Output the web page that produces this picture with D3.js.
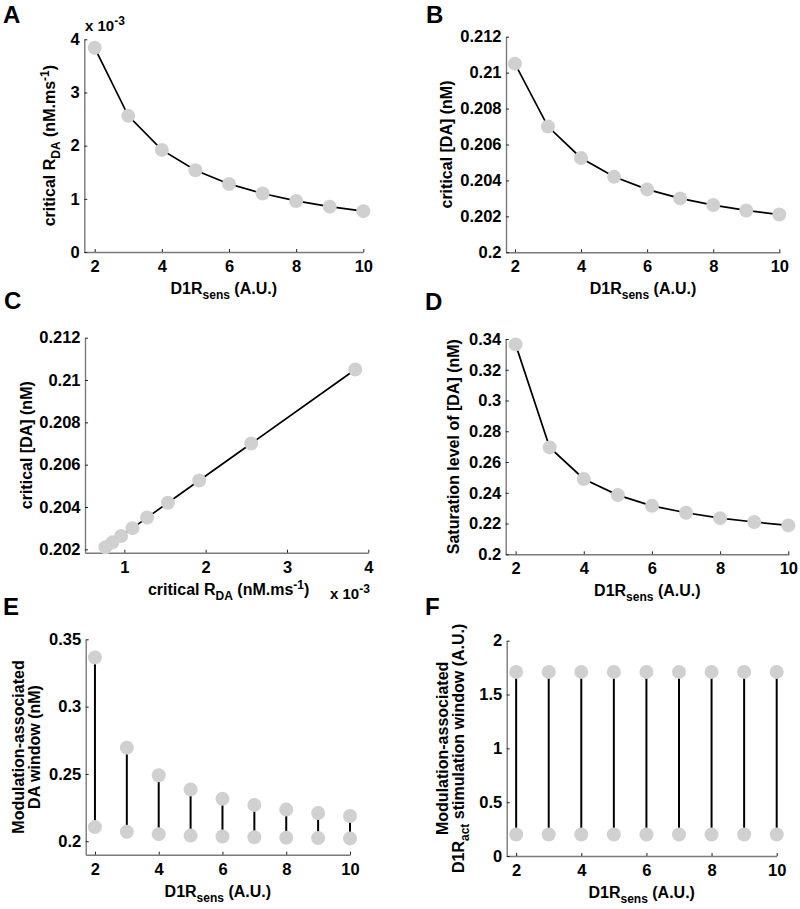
<!DOCTYPE html>
<html>
<head>
<meta charset="utf-8">
<script src="https://cdn.jsdelivr.net/npm/d3@7"></script>
<style>
  html, body { margin: 0; padding: 0; background: #fff; }
  svg { display: block; font-family: "Liberation Sans", Arial, Helvetica, sans-serif; }
  text { font-weight: bold; fill: #000; }
</style>
</head>
<body>
<svg id="chart" width="800" height="909"></svg>
<script>
// ---------------- data ----------------
const d1rSens = [2, 3, 4, 5, 6, 7, 8, 9, 10];
const criticalRDA = [0.00384, 0.00256, 0.00192, 0.001536, 0.00128, 0.0011, 0.00096, 0.000853, 0.000768];
const criticalDA = [0.2105, 0.2070, 0.20525, 0.2042, 0.2035, 0.2030, 0.20263, 0.20233, 0.2021];
const saturationDA = [0.3365, 0.2695, 0.2490, 0.2385, 0.2315, 0.2270, 0.2235, 0.2210, 0.2188];
const d1rActLow = [0.2, 0.2, 0.2, 0.2, 0.2, 0.2, 0.2, 0.2, 0.2];
const d1rActHigh = [1.71, 1.71, 1.71, 1.71, 1.71, 1.71, 1.71, 1.71, 1.71];

const sensTicks = [2, 4, 6, 8, 10];
const ticksA = [0, 0.001, 0.002, 0.003, 0.004];
const ticksB = [0.2, 0.202, 0.204, 0.206, 0.208, 0.21, 0.212];
const ticksCx = [0.001, 0.002, 0.003, 0.004];
const ticksCy = [0.202, 0.204, 0.206, 0.208, 0.21, 0.212];
const ticksD = [0.2, 0.22, 0.24, 0.26, 0.28, 0.3, 0.32, 0.34];
const ticksE = [0.2, 0.25, 0.3, 0.35];
const ticksF = [0, 0.5, 1, 1.5, 2];

// ---------------- style ----------------
const FS = 16;        // axis label font
const TFS = 16.5;     // tick label font
const SUB = 12;
const DOT = "#d0d0d0";
const R = 7;

const svg = d3.select("#chart");

function fmtNum(v) { return String(+v.toFixed(4)); }
function fmtE3(v) { return String(+(v * 1000).toFixed(3)); }

function addRich(g, parts, attrs, size) {
  const t = g.append("text").attr("font-size", size || FS);
  for (const k in attrs) t.attr(k, attrs[k]);
  let shift = 0;
  parts.forEach(([s, kind]) => {
    const ts = t.append("tspan").text(s);
    let target = 0;
    if (kind === "sub") { ts.attr("font-size", SUB); target = 5; }
    else if (kind === "sup") { ts.attr("font-size", SUB); target = -6; }
    ts.attr("dy", target - shift);
    shift = target;
  });
  return t;
}

function panel(cfg) {
  const g = svg.append("g");
  const x = d3.scaleLinear().domain(cfg.xDomain).range([cfg.x0, cfg.x1]);
  const y = d3.scaleLinear().domain(cfg.yDomain).range([cfg.y1, cfg.y0]);

  const ax = g.append("g").attr("transform", `translate(0,${cfg.y1})`)
    .call(d3.axisBottom(x).tickValues(cfg.xTicks).tickFormat(cfg.xFmt || fmtNum)
      .tickSizeInner(-3).tickSizeOuter(0).tickPadding(8.3));
  const ay = g.append("g").attr("transform", `translate(${cfg.x0},0)`)
    .call(d3.axisLeft(y).tickValues(cfg.yTicks).tickFormat(cfg.yFmt || fmtNum)
      .tickSizeInner(-3).tickSizeOuter(0).tickPadding(4.5));
  [ax, ay].forEach(a => {
    a.select(".domain").attr("stroke", "#7a7a7a").attr("stroke-width", 1.4);
    a.selectAll(".tick line").attr("stroke", "#222").attr("stroke-width", 1);
    a.selectAll(".tick text").attr("font-size", TFS).attr("font-weight", "bold")
      .attr("fill", "#000").attr("font-family", "'Liberation Sans', Arial, sans-serif");
  });

  addRich(g, cfg.xLabel, { x: (cfg.x0 + cfg.x1) / 2 + (cfg.xLabelDx || 0), y: cfg.y1 + 42, "text-anchor": "middle" });

  const yc = (cfg.y0 + cfg.y1) / 2;
  cfg.yLabel.forEach((parts, i) => {
    const bx = cfg.yLabelX[i];
    addRich(g, parts, { transform: `translate(${bx},${yc}) rotate(-90)`, "text-anchor": "middle" });
  });

  g.append("text").attr("x", cfg.letterX).attr("y", cfg.letterY)
    .attr("font-size", 24).text(cfg.letter);

  cfg.draw(g, x, y);
  return g;
}

function curveAndDots(g, x, y, xs, ys) {
  const pts = xs.map((v, i) => [v, ys[i]]);
  g.append("path").datum(pts)
    .attr("d", d3.line().x(d => x(d[0])).y(d => y(d[1])))
    .attr("fill", "none").attr("stroke", "#000").attr("stroke-width", 1.7);
  g.selectAll("circle.pt").data(pts).join("circle").attr("class", "pt")
    .attr("cx", d => x(d[0])).attr("cy", d => y(d[1])).attr("r", R).attr("fill", DOT);
}

function stems(g, x, y, xs, lo, hi) {
  const d = xs.map((v, i) => ({ x: v, lo: lo[i], hi: hi[i] }));
  g.selectAll("line.stem").data(d).join("line").attr("class", "stem")
    .attr("x1", p => x(p.x)).attr("x2", p => x(p.x))
    .attr("y1", p => y(p.lo)).attr("y2", p => y(p.hi))
    .attr("stroke", "#000").attr("stroke-width", 2);
  g.selectAll("circle.lo").data(d).join("circle").attr("class", "lo")
    .attr("cx", p => x(p.x)).attr("cy", p => y(p.lo)).attr("r", R).attr("fill", DOT);
  g.selectAll("circle.hi").data(d).join("circle").attr("class", "hi")
    .attr("cx", p => x(p.x)).attr("cy", p => y(p.hi)).attr("r", R).attr("fill", DOT);
}

const sensLabel = [["D1R", "n"], ["sens", "sub"], [" (A.U.)", "n"]];

// A
const gA = panel({
  letter: "A", letterX: 3, letterY: 23,
  x0: 84.3, x1: 363.3, y0: 39.3, y1: 252,
  xDomain: [1.69, 10], yDomain: [0, 0.004],
  xTicks: sensTicks, yTicks: ticksA, yFmt: fmtE3,
  xLabel: sensLabel,
  yLabel: [[["critical R", "n"], ["DA", "sub"], [" (nM.ms", "n"], ["-1", "sup"], [")", "n"]]],
  yLabelX: [55],
  draw: (g, x, y) => curveAndDots(g, x, y, d1rSens, criticalRDA)
});
addRich(gA, [["x 10", "n"], ["-3", "sup"]], { x: 85, y: 31 }, 15);

// B
panel({
  letter: "B", letterX: 426, letterY: 23,
  x0: 506, x1: 780, y0: 36.7, y1: 252.3,
  xDomain: [1.73, 10.02], yDomain: [0.2, 0.212],
  xTicks: sensTicks, yTicks: ticksB,
  xLabel: sensLabel,
  yLabel: [[["critical [DA] (nM)", "n"]]],
  yLabelX: [451.5],
  draw: (g, x, y) => curveAndDots(g, x, y, d1rSens, criticalDA)
});

// C
const gC = panel({
  letter: "C", letterX: 4, letterY: 309,
  x0: 85, x1: 368.3, y0: 337.7, y1: 552.7,
  xDomain: [0.000516, 0.004], yDomain: [0.20184, 0.212],
  xTicks: ticksCx, yTicks: ticksCy, xFmt: fmtE3,
  xLabel: [["critical R", "n"], ["DA", "sub"], [" (nM.ms", "n"], ["-1", "sup"], [")", "n"]],
  xLabelDx: 2,
  yLabel: [[["critical [DA] (nM)", "n"]]],
  yLabelX: [31.5],
  draw: (g, x, y) => curveAndDots(g, x, y, criticalRDA, criticalDA)
});
addRich(gC, [["x 10", "n"], ["-3", "sup"]], { x: 330, y: 599 }, 15);

// D
panel({
  letter: "D", letterX: 425, letterY: 310,
  x0: 505.7, x1: 789, y0: 339, y1: 554.3,
  xDomain: [1.71, 10.02], yDomain: [0.2, 0.34],
  xTicks: sensTicks, yTicks: ticksD,
  xLabel: sensLabel,
  yLabel: [[["Saturation level of [DA] (nM)", "n"]]],
  yLabelX: [458.5],
  draw: (g, x, y) => curveAndDots(g, x, y, d1rSens, saturationDA)
});

// E
panel({
  letter: "E", letterX: 3, letterY: 615,
  x0: 85.7, x1: 350, y0: 639.3, y1: 854.7,
  xDomain: [1.71, 10], yDomain: [0.19, 0.35],
  xTicks: sensTicks, yTicks: ticksE,
  xLabel: sensLabel,
  yLabel: [[["Modulation-associated", "n"]], [["DA window (nM)", "n"]]],
  yLabelX: [23.5, 40],
  draw: (g, x, y) => stems(g, x, y, d1rSens, criticalDA, saturationDA)
});

// F
panel({
  letter: "F", letterX: 425, letterY: 615,
  x0: 506.7, x1: 776.7, y0: 640.7, y1: 856,
  xDomain: [1.71, 10], yDomain: [0, 2],
  xTicks: sensTicks, yTicks: ticksF,
  xLabel: sensLabel,
  yLabel: [[["Modulation-associated", "n"]], [["D1R", "n"], ["act", "sub"], [" stimulation window (A.U.)", "n"]]],
  yLabelX: [448, 464],
  draw: (g, x, y) => stems(g, x, y, d1rSens, d1rActLow, d1rActHigh)
});
</script>
</body>
</html>
